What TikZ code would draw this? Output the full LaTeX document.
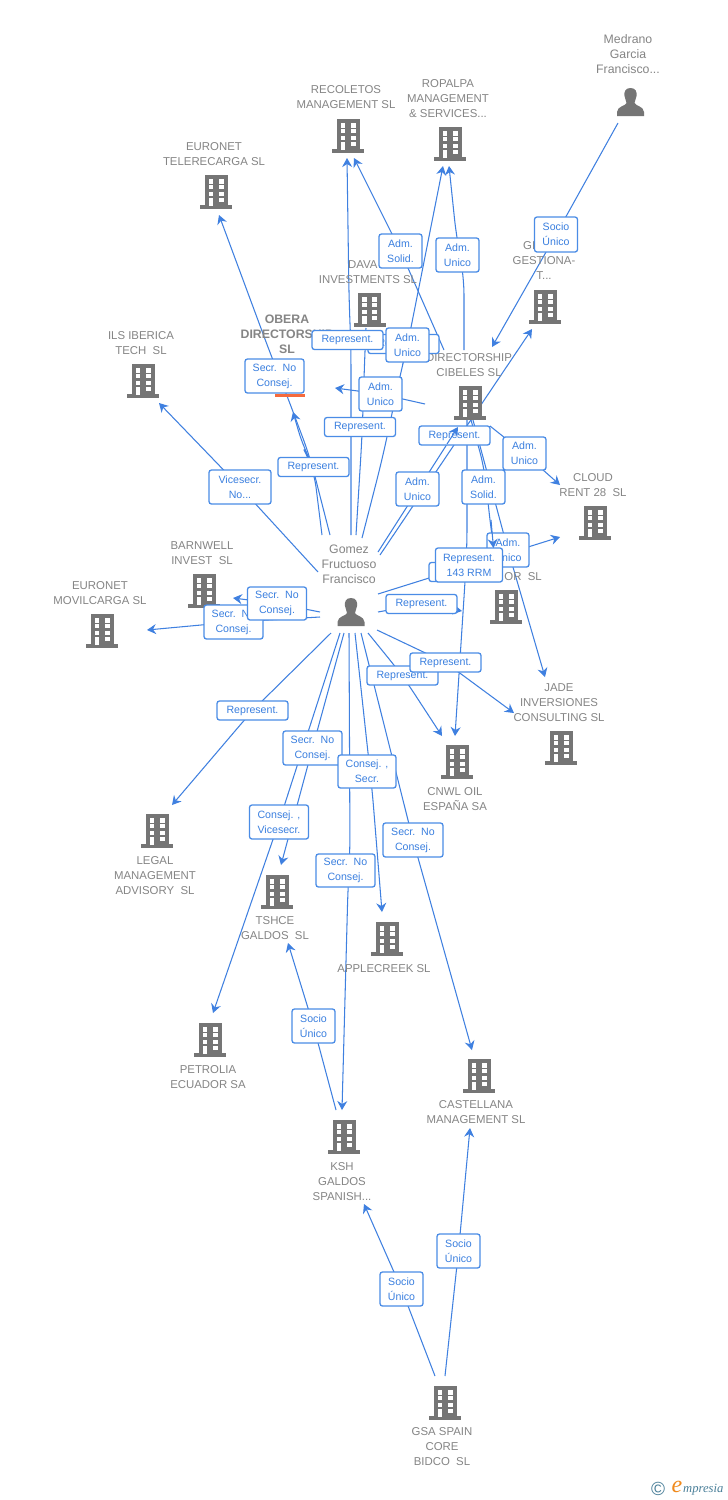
\documentclass[tikz,border=0pt]{standalone}
\usepackage{fontspec}
\setmainfont{Liberation Sans}
\newfontfamily\logofont{Liberation Serif}
\usetikzlibrary{arrows.meta,backgrounds}
\definecolor{edgeblue}{HTML}{3F80E0}
\definecolor{boxblue}{HTML}{4A8CE6}
\definecolor{tagtext}{HTML}{3A7FDF}
\definecolor{labelgray}{HTML}{858585}
\definecolor{icongray}{HTML}{757575}
\definecolor{logoteal}{HTML}{4A7F99}
\definecolor{logoorange}{HTML}{F08A1D}
\definecolor{mainmark}{HTML}{F56A3C}
\tikzset{
  edge/.style={draw=edgeblue,line width=1.05pt,rounded corners=20pt,-{Stealth[length=9pt,width=10pt,inset=3pt]}},
  plainedge/.style={draw=edgeblue,line width=1.05pt,rounded corners=20pt},
  tag/.style={draw=boxblue,line width=1.3pt,fill=white,rounded corners=2.5pt,align=center,inner sep=0pt,text=tagtext,font=\fontsize{10.6}{15}\selectfont,execute at begin node={\vspace*{2pt}}},
  lbl/.style={align=center,inner sep=0pt,text=labelgray,yshift=-1pt,font=\fontsize{11.4}{15}\selectfont},
  namelbl/.style={align=center,inner sep=0pt,text=labelgray,font=\fontsize{12.3}{15}\selectfont},
  buildingpic/.pic={
    \fill[icongray] (-11.5,0) rectangle (11.5,30.5);
    \fill[icongray] (-16,30) rectangle (16,33.5);
    \fill[white] (-7.5,4.4) rectangle (-2.6,8.6);
    \fill[white] (2.6,4.4) rectangle (7.5,8.6);
    \fill[white] (-7.5,10.4) rectangle (-2.6,14.4);
    \fill[white] (2.6,10.4) rectangle (7.5,14.4);
    \fill[white] (-7.5,16.8) rectangle (-2.6,20.9);
    \fill[white] (2.6,16.8) rectangle (7.5,20.9);
    \fill[white] (-7.5,23) rectangle (-2.6,30.5);
    \fill[white] (2.6,23) rectangle (7.5,27.4);
  },
  personpic/.pic={
    \fill[icongray] (0,0) .. controls (5.5,0) and (6.5,4) .. (6,8) .. controls (5.7,11) and (4,13) .. (4,15)
      .. controls (5,18) and (13,18) .. (13.5,24) -- (13.5,28) -- (-13.5,28) -- (-13.5,24)
      .. controls (-13,18) and (-5,18) .. (-4,15) .. controls (-4,13) and (-5.7,11) .. (-6,8)
      .. controls (-6.5,4) and (-5.5,0) .. (0,0) -- cycle;
  }
}
\newcommand{\tagbox}[6]{\node[tag,minimum width=#4pt,minimum height=#5pt] (#1) at (#2,#3) {#6};}
\begin{document}
\begin{tikzpicture}[x=1pt,y=-1pt]
\useasboundingbox (0,0) rectangle (728,1500);

% building icons
\pic at (348,119) {buildingpic};
\pic at (450,127) {buildingpic};
\pic at (216,175) {buildingpic};
\pic at (545,290) {buildingpic};
\pic at (369.5,293) {buildingpic};
\pic at (143,364) {buildingpic};
\pic at (470,386) {buildingpic};
\pic at (595,506) {buildingpic};
\pic at (506,590) {buildingpic};
\pic at (561,731) {buildingpic};
\pic at (457,745) {buildingpic};
\pic at (204,574) {buildingpic};
\pic at (102,614) {buildingpic};
\pic at (157,814) {buildingpic};
\pic at (277,875) {buildingpic};
\pic at (387,922) {buildingpic};
\pic at (210,1023) {buildingpic};
\pic at (479,1059) {buildingpic};
\pic at (344,1120) {buildingpic};
\pic at (445,1386) {buildingpic};
\pic at (630.5,88) {personpic};
\pic at (351,598) {personpic};
\fill[mainmark] (274.5,393.5) rectangle (305,396.5);

% text labels
\node[namelbl] (lMedrano) at (628,54) {Medrano\\Garcia\\Francisco...};
\node[namelbl] (lGomez) at (349,564) {Gomez\\Fructuoso\\Francisco};
\node[lbl] (lRecoletos) at (346,96.5) {RECOLETOS\\MANAGEMENT SL};
\node[lbl] (lRopalpa) at (448,98) {ROPALPA\\MANAGEMENT\\\& SERVICES...};
\node[lbl] (lEuroTele) at (214,153.5) {EURONET\\TELERECARGA SL};
\node[lbl,anchor=west] (lGl) at (523,245) {GI};
\node[lbl] (lGestiona) at (544,267.5) {GESTIONA-\\T...};
\node[lbl,anchor=west] (lDava) at (348,264) {DAVA};
\node[lbl] (lInvest) at (368,279) {INVESTMENTS SL};
\node[lbl] (lIls) at (141,342.5) {ILS IBERICA\\TECH\ \ SL};
\node[align=center,inner sep=0pt,text=labelgray,font=\fontsize{12.3}{15}\selectfont\bfseries] (lObera) at (287,334) {OBERA\\DIRECTORSHIP\\SL};
\node[lbl] (lDirect) at (469,364.5) {DIRECTORSHIP\\CIBELES SL};
\node[lbl] (lCloud) at (593,484.5) {CLOUD\\RENT 28\ \ SL};
\node[lbl,anchor=east] (lOr) at (542,576) {OR\ \ SL};
\node[lbl] (lBarnwell) at (202,552.5) {BARNWELL\\INVEST\ \ SL};
\node[lbl] (lEuroMov) at (100,592.5) {EURONET\\MOVILCARGA SL};
\node[lbl] (lJade) at (559,702) {JADE\\INVERSIONES\\CONSULTING SL};
\node[lbl] (lCnwl) at (455,798.5) {CNWL OIL\\ESPAÑA SA};
\node[lbl] (lLegal) at (155,875) {LEGAL\\MANAGEMENT\\ADVISORY\ \ SL};
\node[lbl] (lTshce) at (275,927.5) {TSHCE\\GALDOS\ \ SL};
\node[lbl] (lApple) at (384,968) {APPLECREEK SL};
\node[lbl] (lPetrolia) at (208,1076.5) {PETROLIA\\ECUADOR SA};
\node[lbl] (lCastellana) at (476,1111.5) {CASTELLANA\\MANAGEMENT SL};
\node[lbl] (lKsh) at (342,1181) {KSH\\GALDOS\\SPANISH...};
\node[lbl] (lGsa) at (442,1446) {GSA SPAIN\\CORE\\BIDCO\ \ SL};

% relation tags
\tagbox{tSocioA}{556}{234.5}{43}{35}{Socio\\Único}
\tagbox{tSolidA}{400.5}{251}{43}{34}{Adm.\\Solid.}
\tagbox{tUnicoA}{457.5}{255}{43}{34}{Adm.\\Unico}
\tagbox{tRepHid}{403.5}{344}{71}{19}{Represent.}
\tagbox{tRepA}{347.5}{340}{71}{19}{Represent.}
\tagbox{tUnicoB}{407.5}{345}{43}{34}{Adm.\\Unico}
\tagbox{tSecrA}{274.5}{376}{59}{34}{Secr.\ \ No\\Consej.}
\tagbox{tUnicoC}{380.5}{394}{43}{34}{Adm.\\Unico}
\tagbox{tRepB}{360}{427}{71}{19}{Represent.}
\tagbox{tRepC}{313.5}{467}{71}{19}{Represent.}
\tagbox{tVice}{240}{487}{62}{34}{Vicesecr.\\No...}
\tagbox{tRepD}{454.5}{435.5}{71}{19}{Represent.}
\tagbox{tUnicoD}{524.5}{453.5}{43}{33}{Adm.\\Unico}
\tagbox{tUnicoE}{417.5}{489}{43}{34}{Adm.\\Unico}
\tagbox{tSolidB}{483.5}{487}{43}{34}{Adm.\\Solid.}
\tagbox{tUnicoF}{508}{550}{42}{34}{Adm.\\Unico}
\tagbox{tRepHidB}{465}{572}{72}{19}{Represent.}
\tagbox{tRrm}{469}{565}{67}{34}{Represent.\\143 RRM}
\tagbox{tRepE}{421.5}{604}{71}{19}{Represent.}
\tagbox{tSecrB}{233.5}{622}{59}{34}{Secr.\ \ No\\Consej.}
\tagbox{tSecrC}{277}{603.5}{59}{33}{Secr.\ \ No\\Consej.}
\tagbox{tRepF}{402.5}{675.5}{71}{19}{Represent.}
\tagbox{tRepG}{445.5}{662.5}{71}{19}{Represent.}
\tagbox{tRepH}{252.5}{710.5}{71}{19}{Represent.}
\tagbox{tSecrD}{312.5}{748}{59}{34}{Secr.\ \ No\\Consej.}
\tagbox{tConsA}{279}{822}{59}{34}{Consej. ,\\Vicesecr.}
\tagbox{tConsB}{367}{771.5}{58}{33}{Consej. ,\\Secr.}
\tagbox{tSecrE}{413}{840}{60}{34}{Secr.\ \ No\\Consej.}
\tagbox{tSecrF}{345.5}{870.5}{59}{33}{Secr.\ \ No\\Consej.}
\tagbox{tSocioB}{313.5}{1026}{43}{34}{Socio\\Único}
\tagbox{tSocioC}{458.5}{1251}{43}{34}{Socio\\Único}
\tagbox{tSocioD}{401.5}{1289}{43}{34}{Socio\\Único}

% free connector ends and way points
\coordinate (fMedrano) at (618,123);
\coordinate (aCibelesIn) at (492,347);
\coordinate (fDirUp) at (464,350);
\coordinate (mRopA) at (464,275);
\coordinate (mRopB) at (456.5,238);
\coordinate (aRopalpaB) at (449,166);
\coordinate (fDirUpB) at (444,350);
\coordinate (aRecoletosB) at (354,158);
\coordinate (aTele) at (219,215);
\coordinate (mTeleA) at (272,358);
\coordinate (mTeleB) at (286,393);
\coordinate (mTeleC) at (310,457);
\coordinate (fGoTele) at (330,535);
\coordinate (fGoRec) at (351,535);
\coordinate (mRecA) at (351,350);
\coordinate (mRecB) at (349,297);
\coordinate (aRec) at (347,158);
\coordinate (fGoRop) at (362,538);
\coordinate (mGoRop) at (382,460);
\coordinate (mGoRopB) at (402,367);
\coordinate (aRop) at (443,166);
\coordinate (fGoDava) at (356,535);
\coordinate (mDavaA) at (362,437);
\coordinate (mDavaB) at (365,350);
\coordinate (aDava) at (366,328);
\coordinate (fDirOb) at (425,404);
\coordinate (aOb) at (335,388);
\coordinate (fGoOb) at (322,535);
\coordinate (mOb) at (304,450);
\coordinate (aOb2) at (293,412);
\coordinate (fGoIls) at (318,572);
\coordinate (aIls) at (159,403);
\coordinate (fGoBar) at (320,612);
\coordinate (aBar) at (233,598);
\coordinate (fGoMov) at (320,617);
\coordinate (aMov) at (147,630);
\coordinate (fGoLeg) at (331,633);
\coordinate (aLeg) at (172,805);
\coordinate (fGoTsh) at (344,633);
\coordinate (aTsh) at (281,865);
\coordinate (fGoPet) at (340,633);
\coordinate (aPet) at (213,1013);
\coordinate (fGoKsh) at (349,633);
\coordinate (mKsh) at (350,853);
\coordinate (mKshB) at (348,887);
\coordinate (aKsh) at (342,1110);
\coordinate (fGoApp) at (355,633);
\coordinate (mApp) at (368,753);
\coordinate (mAppB) at (372,788);
\coordinate (aApp) at (382,912);
\coordinate (fGoCas) at (361,633);
\coordinate (aCas) at (472,1050);
\coordinate (fGoCnw) at (368,633);
\coordinate (aCnw) at (442,736);
\coordinate (fGoJad) at (377,630);
\coordinate (aJad) at (514,713);
\coordinate (fGoMay) at (378,612);
\coordinate (aMay) at (462,611);
\coordinate (fGoClo) at (378,594);
\coordinate (aClo) at (560,537);
\coordinate (fDirCnw) at (467,420);
\coordinate (mCnwA) at (467,548);
\coordinate (mCnwB) at (465,582);
\coordinate (aCnwB) at (455,736);
\coordinate (fDirMay) at (471,420);
\coordinate (mMayA) at (485,470);
\coordinate (mMayB) at (488,504);
\coordinate (aMayB) at (493.5,548);
\coordinate (pMayB) at (491,520);
\coordinate (fDirJad) at (473,420);
\coordinate (aJadB) at (545,677);
\coordinate (fDirClo) at (490,426);
\coordinate (aClB) at (560,485);
\coordinate (fGoGes) at (380,555);
\coordinate (aGes) at (532,329);
\coordinate (fGoDir) at (378,552);
\coordinate (aDir) at (458,427);
\coordinate (pDir) at (447,444);
\coordinate (fKshUp) at (336,1110);
\coordinate (aTshB) at (288,943);
\coordinate (fGsaL) at (435,1376);
\coordinate (aKshB) at (364,1204);
\coordinate (fGsaR) at (445,1376);
\coordinate (aCasB) at (470,1128);

% connectors behind the tags
\begin{pgfonlayer}{background}
\fill[white] (0,0) rectangle (728,1500);
\draw[edge] (fMedrano) -- (tSocioA.center) -- (aCibelesIn);
\draw[edge] (fDirUp) -- (mRopA) -- (mRopB) -- (aRopalpaB);
\draw[edge] (fDirUpB) -- (tSolidA.center) -- (aRecoletosB);
\draw[edge] (fGoTele) -- (mTeleC) -- (mTeleB) -- (mTeleA) -- (aTele);
\draw[edge] (fGoOb) -- (tRepC.center) -- (mOb) -- (aOb2);
\draw[edge] (fGoRec) -- (mRecA) -- (mRecB) -- (aRec);
\draw[edge] (fGoRop) -- (mGoRop) -- (mGoRopB) -- (tUnicoB.center) -- (aRop);
\draw[plainedge] (fGoDava) -- (mDavaA) -- (mDavaB) -- (aDava);
\draw[edge] (fDirOb) -- (tUnicoC.center) -- (aOb);
\draw[edge] (fGoIls) -- (tVice.center) -- (aIls);
\draw[edge] (fGoBar) -- (tSecrC.center) -- (aBar);
\draw[edge] (fGoMov) -- (tSecrB.center) -- (aMov);
\draw[edge] (fGoLeg) -- (tRepH.center) -- (aLeg);
\draw[edge] (fGoTsh) -- (tSecrD.center) -- (aTsh);
\draw[edge] (fGoPet) -- (tConsA.center) -- (aPet);
\draw[edge] (fGoKsh) -- (mKsh) -- (mKshB) -- (aKsh);
\draw[edge] (fGoApp) -- (mApp) -- (mAppB) -- (aApp);
\draw[edge] (fGoCas) -- (tSecrE.center) -- (aCas);
\draw[edge] (fGoCnw) -- (tRepF.center) -- (aCnw);
\draw[edge] (fGoJad) -- (tRepG.center) -- (aJad);
\draw[edge] (fGoMay) -- (tRepE.center) -- (aMay);
\draw[edge] (fGoClo) -- (aClo);
\draw[edge] (fDirCnw) -- (mCnwA) -- (mCnwB) -- (aCnwB);
\draw[plainedge] (fDirMay) -- (mMayA) -- (mMayB) -- (aMayB);
\draw[edge] (fDirJad) -- (tUnicoF.center) -- (aJadB);
\draw[edge] (fDirClo) -- (tUnicoD.center) -- (aClB);
\draw[edge] (fGoGes) -- (aGes);
\draw[plainedge] (fGoDir) -- (aDir);
\draw[edge] (fKshUp) -- (tSocioB.center) -- (aTshB);
\draw[edge] (fGsaL) -- (tSocioD.center) -- (aKshB);
\draw[edge] (fGsaR) -- (tSocioC.center) -- (aCasB);
\end{pgfonlayer}

% arrowheads that sit over the tags
\draw[edge] (pMayB) -- (aMayB);
\draw[edge] (pDir) -- (aDir);

% logo
\node[inner sep=0pt,text=logoteal,font=\fontsize{19}{19}\selectfont] (logoC) at (658,1489) {©};
\node[inner sep=0pt,text=logoorange,font=\logofont\itshape\fontsize{24}{24}\selectfont] (logoE) at (677,1487) {e};
\node[inner sep=0pt,anchor=west,text=logoteal,font=\logofont\itshape\fontsize{12.6}{12.6}\selectfont] (logoT) at (683,1490) {mpresia};
\end{tikzpicture}
\end{document}
